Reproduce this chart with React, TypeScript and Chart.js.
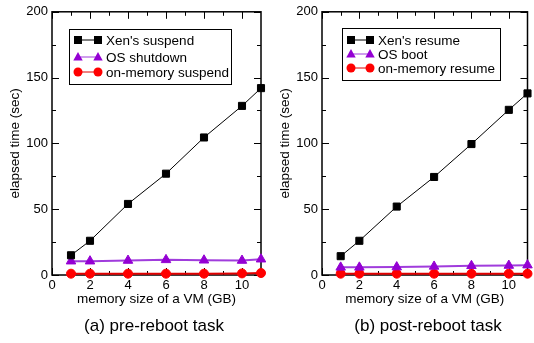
import React, { useEffect, useRef } from 'react';
import { Chart, registerables } from 'chart.js';
Chart.register(...registerables);

const memorySizes = [1, 2, 4, 6, 8, 10, 11];
const xenSuspend = [15, 26, 54, 77, 104.5, 128.5, 142];
const osShutdown = [10.5, 10.5, 11, 11.5, 11.2, 11, 12];
const onMemorySuspend = [1, 1, 1, 1, 1, 1.2, 1.5];
const xenResume = [14.3, 26, 52, 74.5, 99.5, 125.5, 138];
const osBoot = [5.8, 5.8, 6, 6.5, 7, 7.2, 7.5];
const onMemoryResume = [1, 1, 1, 1, 1, 1, 1];

const xMajorTicks = [0, 2, 4, 6, 8, 10];
const xMinorTicks = [1, 3, 5, 7, 9];
const yMajorTicks = [0, 50, 100, 150, 200];
const yMinorTicks = [25, 75, 125, 175];

const leftLabels = ["Xen's suspend", 'OS shutdown', 'on-memory suspend'];
const rightLabels = ["Xen's resume", 'OS boot', 'on-memory resume'];
const xTitle = 'memory size of a VM (GB)';
const yTitle = 'elapsed time (sec)';
const captions = ['(a) pre-reboot task', '(b) post-reboot task'];

const FONT = "'Liberation Sans', Arial, Helvetica, sans-serif";

const seriesStyles = [
  { line: '#000000', point: '#000000', style: 'rect', radius: 5, width: 1 },
  { line: '#a03cdc', point: '#9400d3', style: 'triangle', radius: 5.5, width: 2 },
  { line: '#e00000', point: '#ff0000', style: 'circle', radius: 4.5, width: 2 },
];

function drawMarker(ctx: CanvasRenderingContext2D, style: string, x: number, y: number, color: string) {
  ctx.fillStyle = color;
  ctx.beginPath();
  if (style === 'rect') {
    ctx.rect(x - 4, y - 4, 8, 8);
  } else if (style === 'triangle') {
    ctx.moveTo(x, y - 5);
    ctx.lineTo(x + 4.7, y + 3.5);
    ctx.lineTo(x - 4.7, y + 3.5);
    ctx.closePath();
  } else {
    ctx.arc(x, y, 4.5, 0, Math.PI * 2);
  }
  ctx.fill();
}

const framePlugin = {
  id: 'frameTicks',
  beforeDatasetsDraw(chart: any) {
    const { ctx, chartArea: a, scales } = chart;
    const xs = scales.x;
    const ys = scales.y;
    ctx.save();
    ctx.strokeStyle = '#000';
    ctx.lineWidth = 1;
    const drawX = (vals: number[], len: number) => {
      vals.forEach((v) => {
        const px = Math.round(xs.getPixelForValue(v)) + 0.5;
        ctx.beginPath();
        ctx.moveTo(px, a.bottom);
        ctx.lineTo(px, a.bottom - len);
        ctx.moveTo(px, a.top);
        ctx.lineTo(px, a.top + len);
        ctx.stroke();
      });
    };
    const drawY = (vals: number[], len: number) => {
      vals.forEach((v) => {
        const py = Math.round(ys.getPixelForValue(v)) + 0.5;
        ctx.beginPath();
        ctx.moveTo(a.left, py);
        ctx.lineTo(a.left + len, py);
        ctx.moveTo(a.right, py);
        ctx.lineTo(a.right - len, py);
        ctx.stroke();
      });
    };
    drawX(xMajorTicks, 7);
    drawX(xMinorTicks, 4);
    drawY(yMajorTicks, 7);
    drawY(yMinorTicks, 4);
    ctx.lineWidth = 1.5;
    ctx.strokeRect(a.left, a.top, a.right - a.left, a.bottom - a.top);
    ctx.restore();
  },
};

const boxLegendPlugin = {
  id: 'boxLegend',
  afterDatasetsDraw(chart: any, _args: any, opts: any) {
    const { ctx } = chart;
    ctx.save();
    ctx.fillStyle = '#fff';
    ctx.fillRect(opts.x, opts.y, opts.w, opts.h);
    ctx.strokeStyle = '#000';
    ctx.lineWidth = 1;
    ctx.strokeRect(opts.x + 0.5, opts.y + 0.5, opts.w, opts.h);
    chart.data.datasets.forEach((ds: any, i: number) => {
      const st = seriesStyles[i];
      const yy = opts.rows[i];
      ctx.strokeStyle = st.line;
      ctx.lineWidth = 1;
      ctx.beginPath();
      ctx.moveTo(opts.m1, yy);
      ctx.lineTo(opts.m2, yy);
      ctx.stroke();
      drawMarker(ctx, st.style, opts.m1, yy, st.point);
      drawMarker(ctx, st.style, opts.m2, yy, st.point);
      ctx.fillStyle = '#000';
      ctx.font = `13.5px ${FONT}`;
      ctx.textBaseline = 'middle';
      ctx.textAlign = 'left';
      ctx.fillText(ds.label, opts.tx, yy + 1);
    });
    ctx.restore();
  },
};

type PanelProps = {
  left: number;
  width: number;
  rightPad: number;
  labels: string[];
  series: number[][];
  legend: any;
  caption: string;
  captionCenter: number;
};

function Panel({ left, width, rightPad, labels, series, legend, caption, captionCenter }: PanelProps) {
  const ref = useRef<HTMLCanvasElement>(null);
  useEffect(() => {
    if (!ref.current) return;
    const chart = new Chart(ref.current, {
      type: 'line',
      data: {
        datasets: series.map((arr, i) => ({
          label: labels[i],
          data: memorySizes.map((m, j) => ({ x: m, y: arr[j] })),
          borderColor: seriesStyles[i].line,
          borderWidth: seriesStyles[i].width,
          backgroundColor: seriesStyles[i].point,
          pointBackgroundColor: seriesStyles[i].point,
          pointBorderColor: seriesStyles[i].point,
          pointBorderWidth: 1,
          pointStyle: seriesStyles[i].style as any,
          pointRadius: seriesStyles[i].radius,
          tension: 0,
          clip: false as any,
        })),
      },
      options: {
        animation: false,
        responsive: false,
        devicePixelRatio: 1,
        layout: { padding: { top: 9, right: rightPad, bottom: 33, left: 0 } },
        font: { family: FONT } as any,
        plugins: {
          legend: { display: false },
          tooltip: { enabled: false },
          boxLegend: legend,
        } as any,
        scales: {
          x: {
            type: 'linear',
            min: 0,
            max: 11,
            grid: { display: false, drawTicks: false },
            border: { display: false },
            afterBuildTicks: (s: any) => {
              s.ticks = xMajorTicks.map((v) => ({ value: v }));
            },
            afterFit: (s: any) => {
              s.height = 35;
            },
            ticks: {
              padding: 3,
              color: '#000',
              font: { family: FONT, size: 13 },
              maxRotation: 0,
              autoSkip: false,
            },
            title: {
              display: true,
              text: xTitle,
              color: '#000',
              font: { family: FONT, size: 13.5 },
              padding: { top: 0, bottom: 3 },
            },
          },
          y: {
            type: 'linear',
            min: 0,
            max: 200,
            grid: { display: false, drawTicks: false },
            border: { display: false },
            afterBuildTicks: (s: any) => {
              s.ticks = yMajorTicks.map((v) => ({ value: v }));
            },
            afterFit: (s: any) => {
              s.width = 52;
            },
            ticks: {
              padding: 4,
              color: '#000',
              font: { family: FONT, size: 13 },
              autoSkip: false,
            },
            title: {
              display: true,
              text: yTitle,
              color: '#000',
              font: { family: FONT, size: 13.5 },
              padding: { top: 7, bottom: 0 },
            },
          },
        },
      },
      plugins: [framePlugin, boxLegendPlugin],
    });
    return () => chart.destroy();
  }, []);
  return (
    <>
      <canvas
        ref={ref}
        width={width}
        height={343}
        style={{ position: 'absolute', left, top: 0, width, height: 343 }}
      />
      <div
        style={{
          position: 'absolute',
          left: captionCenter - 120,
          width: 240,
          top: 317,
          textAlign: 'center',
          fontFamily: FONT,
          fontSize: 17,
          lineHeight: '18px',
          color: '#000',
        }}
      >
        {caption}
      </div>
    </>
  );
}

export default function App() {
  return (
    <div
      style={{
        position: 'fixed',
        left: 0,
        top: 0,
        width: 534,
        height: 343,
        background: '#fff',
        overflow: 'hidden',
      }}
    >
      <Panel
        left={0}
        width={270}
        rightPad={9}
        labels={leftLabels}
        series={[xenSuspend, osShutdown, onMemorySuspend]}
        legend={{ x: 69, y: 29, w: 162, h: 55, rows: [40, 57, 72], m1: 78, m2: 98, tx: 106 }}
        caption={captions[0]}
        captionCenter={154}
      />
      <Panel
        left={270}
        width={264}
        rightPad={3}
        labels={rightLabels}
        series={[xenResume, osBoot, onMemoryResume]}
        legend={{ x: 72, y: 28, w: 158, h: 52, rows: [40, 54, 68], m1: 81, m2: 100, tx: 108 }}
        caption={captions[1]}
        captionCenter={428}
      />
    </div>
  );
}
